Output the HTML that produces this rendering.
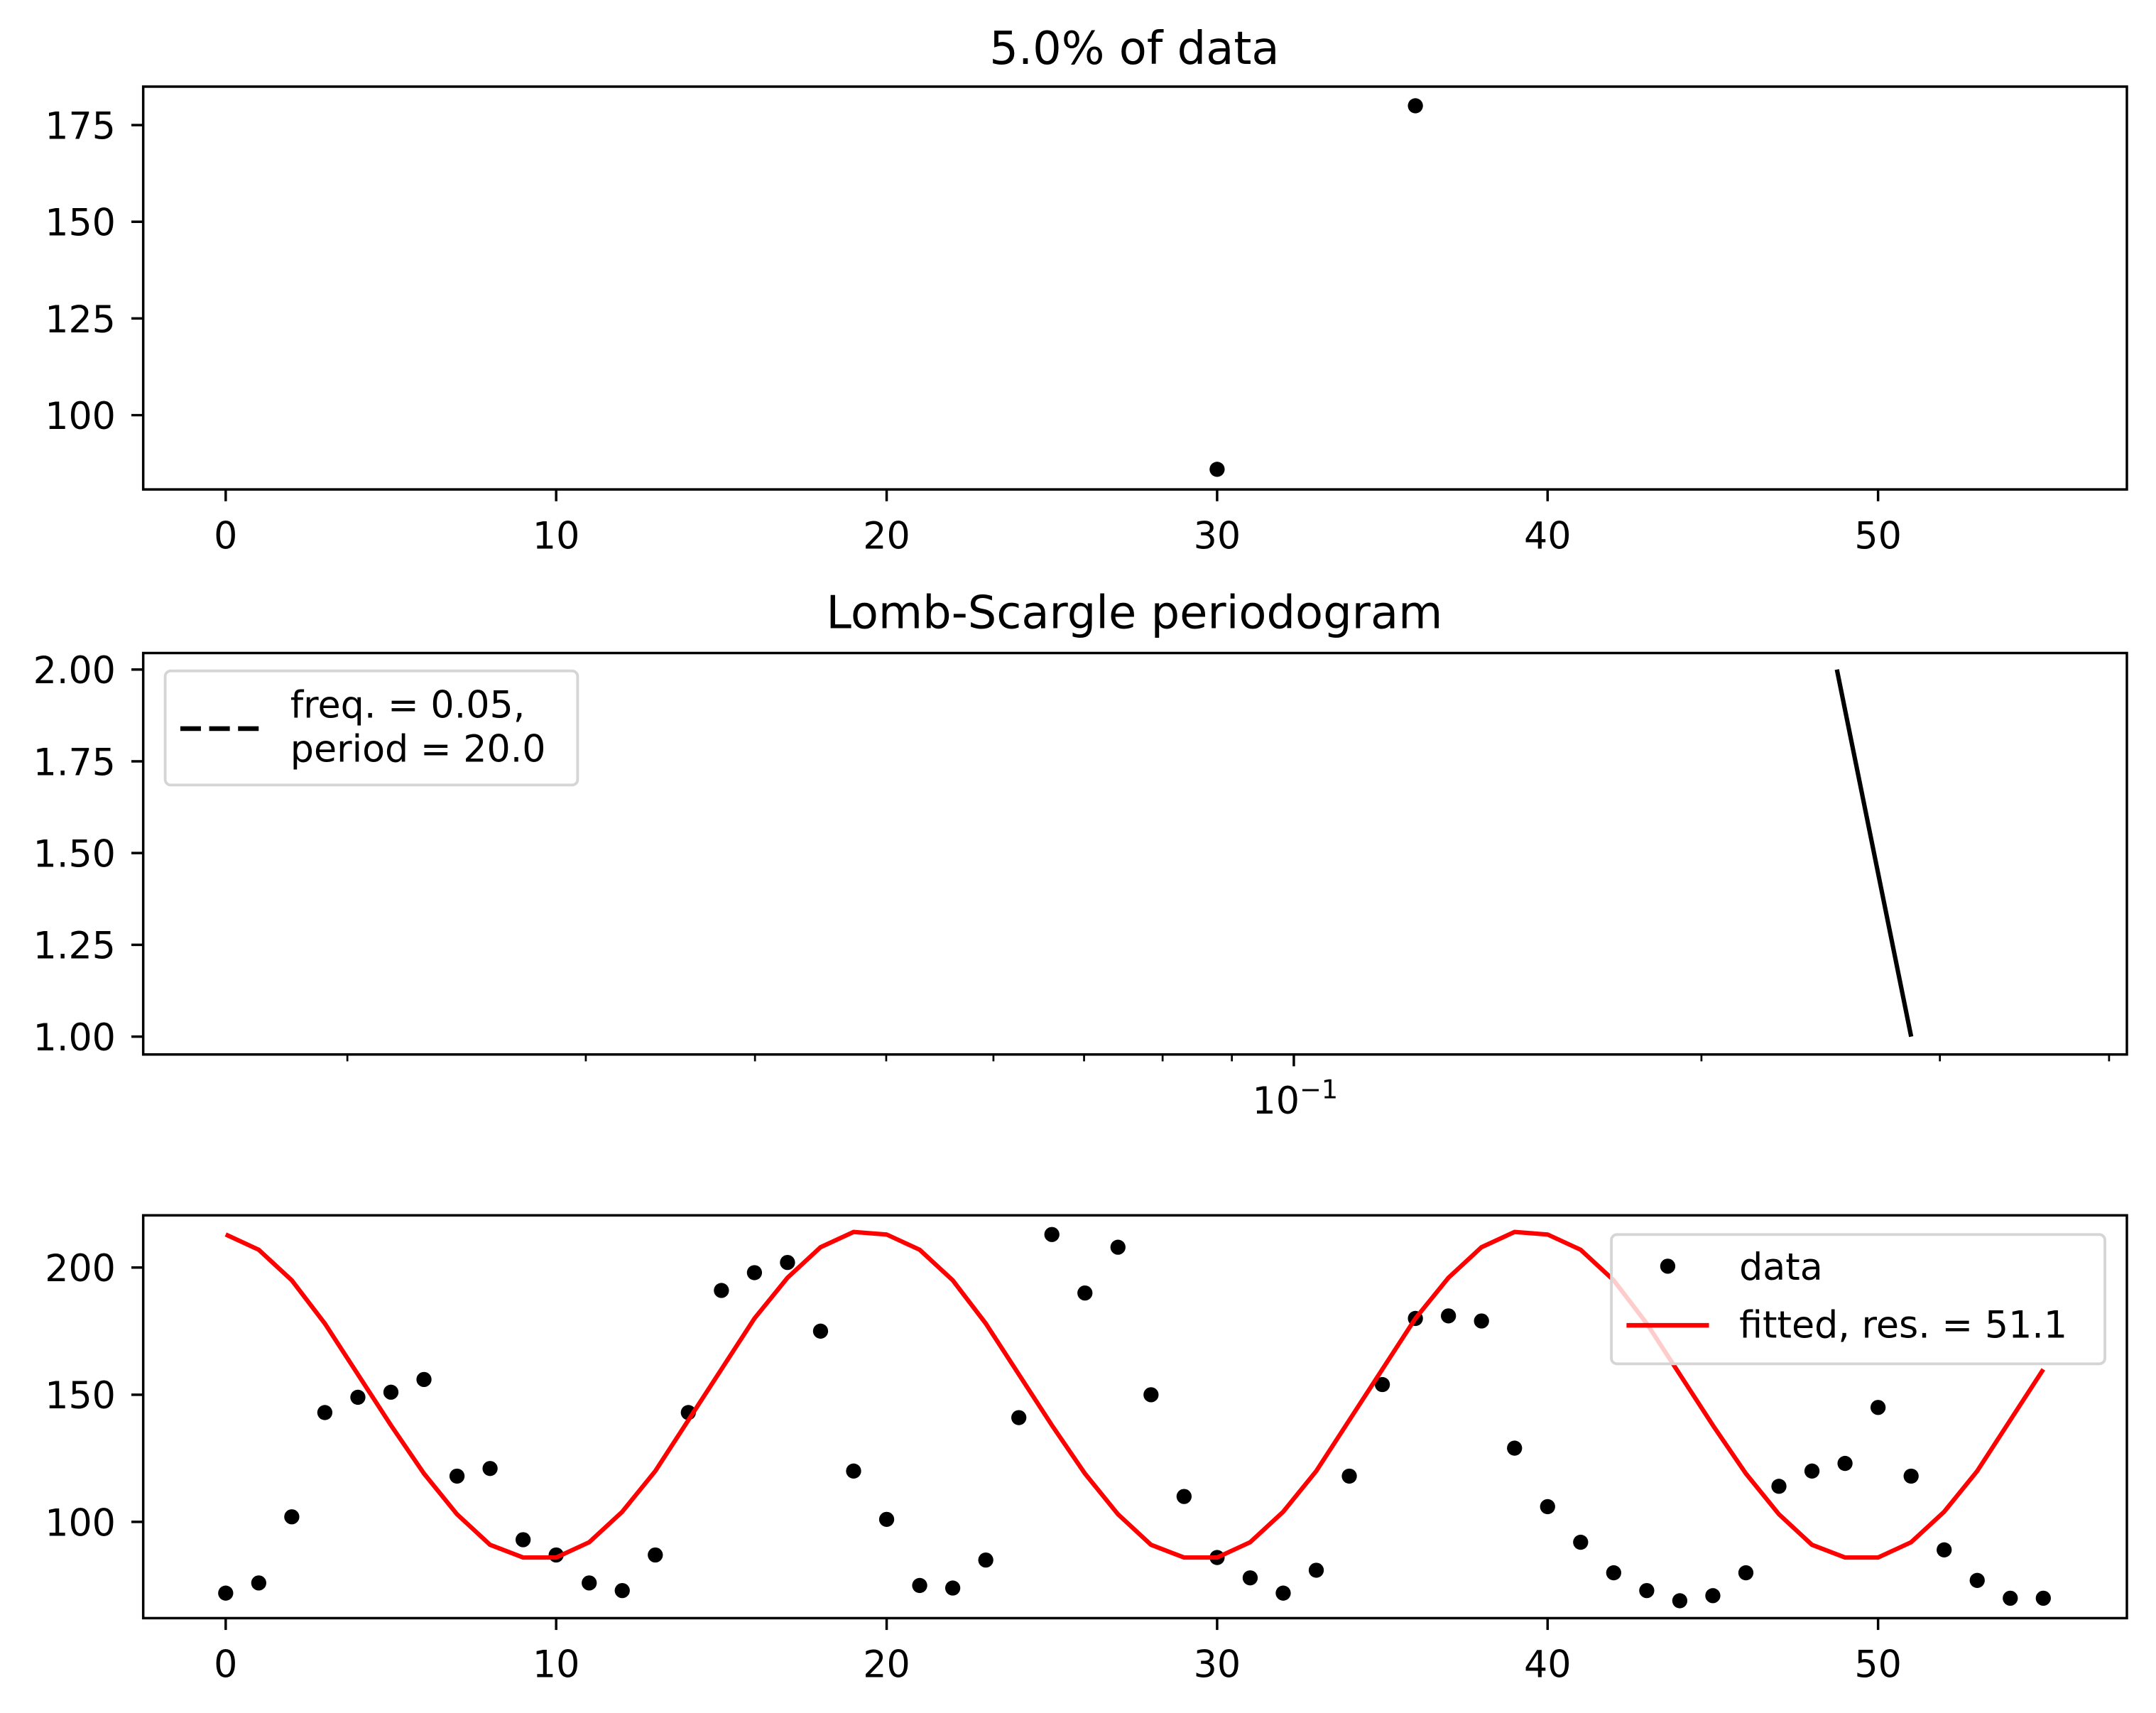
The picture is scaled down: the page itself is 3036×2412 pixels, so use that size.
<!DOCTYPE html>
<html><head><meta charset="utf-8"><style>html,body{margin:0;padding:0;background:#fff}svg{display:block}text{font-family:"DejaVu Sans","Liberation Sans",sans-serif;fill:#000}</style></head>
<body>
<svg id="fig" width="3036" height="2412" viewBox="0 0 1568 1246" xmlns="http://www.w3.org/2000/svg">
<rect width="1568" height="1246" fill="#fff"/>
<g id="g1"></g>
<g id="g2"></g>
<g id="g3"></g>
</svg>
<script>
// Panel 1 data
const sampleX = [30, 36];
const sampleY = [86, 180];
const p1XTicks = [0, 10, 20, 30, 40, 50];
const p1YTicks = [100, 125, 150, 175];
// Panel 2 data
const periodFreq = [0.2518, 0.2857];
const periodPower = [2.0, 1.0];
const p2YTicks = [1.00, 1.25, 1.50, 1.75, 2.00];
const p2YLabels = ["1.00", "1.25", "1.50", "1.75", "2.00"];
const p2MinorTicks = [0.02, 0.03, 0.04, 0.05, 0.06, 0.07, 0.08, 0.09, 0.2, 0.3, 0.4];
// Panel 3 data
const dataX = [0,1,2,3,4,5,6,7,8,9,10,11,12,13,14,15,16,17,18,19,20,21,22,23,24,25,26,27,28,29,30,31,32,33,34,35,36,37,38,39,40,41,42,43,44,45,46,47,48,49,50,51,52,53,54,55];
const dataY = [72,76,102,143,149,151,156,118,121,93,87,76,73,87,143,191,198,202,175,120,101,75,74,85,141,213,190,208,150,110,86,78,72,81,118,154,180,181,179,129,106,92,80,73,69,71,80,114,120,123,145,118,89,77,70,70];
const fitY = [213,207,195,178,158,138,119,103,91,86,86,92,104,120,140,160,180,196,208,214,213,207,195,178,158,138,119,103,91,86,86,92,104,120,140,160,180,196,208,214,213,207,195,178,158,138,119,103,91,86,86,92,104,120,140,160];
const p3YTicks = [100, 150, 200];

const NS = "http://www.w3.org/2000/svg";
function mk(parent, tag, attrs, txt) {
  const e = document.createElementNS(NS, tag);
  for (const k in attrs) e.setAttribute(k, attrs[k]);
  if (txt !== undefined) e.textContent = txt;
  parent.appendChild(e);
  return e;
}
const L = 104, R = 1547;
const FS = 27, TFS = 33, SW = 1.8, TL = 8.6;
const xLin = v => 164 + (v) * 24.04;

// ---------- Panel 1 ----------
(function(){
  const g = document.getElementById('g1');
  const T = 63, B = 356;
  const y = v => 91 + (175 - v) * 2.813;
  const t = mk(g, 'text', {x: 825, y: 46.5, 'text-anchor': 'middle', 'font-size': TFS}, '5.0% of data');
  
  
  p1XTicks.forEach(v => {
    const l = mk(g, 'line', {x1: xLin(v), x2: xLin(v), y1: B, y2: B + TL, stroke: '#000', 'stroke-width': SW});
    
    
    const tx = mk(g, 'text', {x: xLin(v), y: B + 43, 'text-anchor': 'middle', 'font-size': FS}, String(v));
    
    
  });
  p1YTicks.forEach(v => {
    const l = mk(g, 'line', {x1: L - TL, x2: L, y1: y(v), y2: y(v), stroke: '#000', 'stroke-width': SW});
    
    
    const tx = mk(g, 'text', {x: L - 20, y: y(v) + 10, 'text-anchor': 'end', 'font-size': FS}, String(v));
    
    
  });
  sampleX.forEach((v, i) => {
    const c = mk(g, 'circle', {cx: xLin(v), cy: y(sampleY[i]), r: 5.5, fill: '#000'});
    
    
  });
  const f = mk(g, 'rect', {x: L, y: T, width: R - L, height: B - T, fill: 'none', stroke: '#000', 'stroke-width': SW});
  
  
})();

// ---------- Panel 2 ----------
(function(){
  const g = document.getElementById('g2');
  const T = 475, B = 767;
  const x = v => 941 + Math.log10(v / 0.1) * 985;
  const y = v => 487 + (2 - v) * 267;
  const t = mk(g, 'text', {x: 825, y: 457, 'text-anchor': 'middle', 'font-size': TFS}, 'Lomb-Scargle periodogram');
  
  
  p2MinorTicks.forEach(v => {
    const l = mk(g, 'line', {x1: x(v), x2: x(v), y1: B, y2: B + 5, stroke: '#000', 'stroke-width': 1.4});
    
    
  });
  const mj = mk(g, 'line', {x1: x(0.1), x2: x(0.1), y1: B, y2: B + TL, stroke: '#000', 'stroke-width': SW});
  
  
  const lab = mk(g, 'text', {x: x(0.1) + 1, y: 810, 'text-anchor': 'middle', 'font-size': FS});
  
  
  lab.innerHTML = '10<tspan dy="-11" font-size="19">\u22121</tspan>';
  p2YTicks.forEach((v, i) => {
    const l = mk(g, 'line', {x1: L - TL, x2: L, y1: y(v), y2: y(v), stroke: '#000', 'stroke-width': SW});
    
    
    const tx = mk(g, 'text', {x: L - 20, y: y(v) + 10, 'text-anchor': 'end', 'font-size': FS}, p2YLabels[i]);
    
    
  });
  const pts = periodFreq.map((f, i) => x(f) + ',' + y(periodPower[i])).join(' ');
  const pl = mk(g, 'polyline', {points: pts, fill: 'none', stroke: '#000', 'stroke-width': 3.2});
  
  
  const f = mk(g, 'rect', {x: L, y: T, width: R - L, height: B - T, fill: 'none', stroke: '#000', 'stroke-width': SW});
  
  
  const lg = mk(g, 'g', {});
  
  
  mk(lg, 'rect', {x: 120, y: 488, width: 300, height: 83, rx: 4, fill: '#fff', stroke: '#d5d5d5', 'stroke-width': 2});
  const dl = mk(lg, 'line', {x1: 131, x2: 188, y1: 530, y2: 530, stroke: '#000', 'stroke-width': 3.4, 'stroke-dasharray': '15,6'});
  
  
  mk(lg, 'text', {x: 211, y: 522, 'font-size': FS}, 'freq. = 0.05,');
  mk(lg, 'text', {x: 211, y: 554, 'font-size': FS}, 'period = 20.0');
})();

// ---------- Panel 3 ----------
(function(){
  const g = document.getElementById('g3');
  const T = 884, B = 1177;
  const y = v => 922 + (200 - v) * 1.85;
  p1XTicks.forEach(v => {
    const l = mk(g, 'line', {x1: xLin(v), x2: xLin(v), y1: B, y2: B + TL, stroke: '#000', 'stroke-width': SW});
    
    
    const tx = mk(g, 'text', {x: xLin(v), y: B + 43, 'text-anchor': 'middle', 'font-size': FS}, String(v));
    
    
  });
  p3YTicks.forEach(v => {
    const l = mk(g, 'line', {x1: L - TL, x2: L, y1: y(v), y2: y(v), stroke: '#000', 'stroke-width': SW});
    
    
    const tx = mk(g, 'text', {x: L - 20, y: y(v) + 10, 'text-anchor': 'end', 'font-size': FS}, String(v));
    
    
  });
  dataX.forEach((v, i) => {
    const c = mk(g, 'circle', {cx: xLin(v), cy: y(dataY[i]), r: 5.5, fill: '#000'});
    
    
  });
  const pts = dataX.map((v, i) => xLin(v) + ',' + y(fitY[i])).join(' ');
  const pl = mk(g, 'polyline', {points: pts, fill: 'none', stroke: '#ff0000', 'stroke-width': 3.2});
  
  
  const f = mk(g, 'rect', {x: L, y: T, width: R - L, height: B - T, fill: 'none', stroke: '#000', 'stroke-width': SW});
  
  
  const lg = mk(g, 'g', {});
  
  
  mk(lg, 'rect', {x: 1172, y: 898, width: 359, height: 94, rx: 4, fill: '#fff', 'fill-opacity': 0.8, stroke: '#d5d5d5', 'stroke-width': 2});
  const dd = mk(lg, 'circle', {cx: 1213, cy: 921, r: 5.5, fill: '#000'});
  
  
  mk(lg, 'text', {x: 1265, y: 931, 'font-size': FS}, 'data');
  const fl = mk(lg, 'line', {x1: 1183, x2: 1243, y1: 964, y2: 964, stroke: '#ff0000', 'stroke-width': 3.4});
  
  
  mk(lg, 'text', {x: 1265, y: 973, 'font-size': FS}, 'fitted, res. = 51.1');
})();
</script>
</body></html>
